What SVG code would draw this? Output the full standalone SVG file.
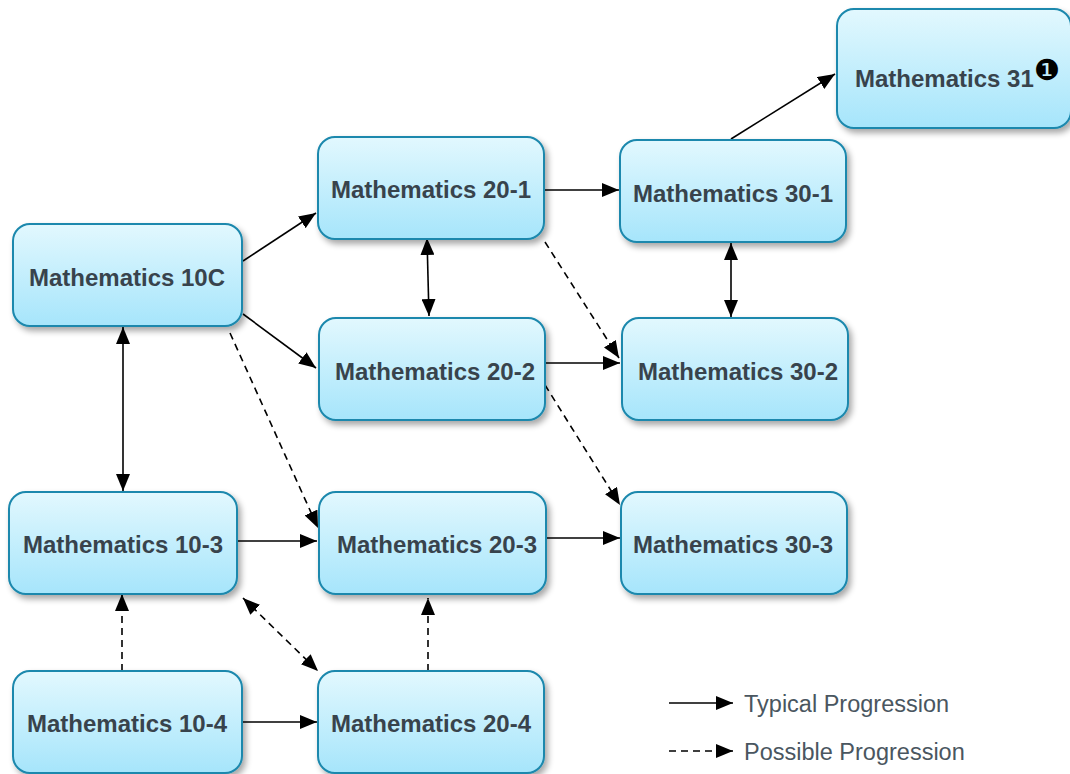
<svg xmlns="http://www.w3.org/2000/svg" width="1070" height="774" viewBox="0 0 1070 774">
<defs>
<linearGradient id="g" x1="0" y1="0" x2="0" y2="1">
<stop offset="0" stop-color="#e2f8fe"/>
<stop offset="1" stop-color="#a6e5fb"/>
</linearGradient>
<filter id="sh" x="-10%" y="-10%" width="130%" height="140%">
<feGaussianBlur in="SourceAlpha" stdDeviation="3"/>
<feOffset dx="3" dy="4" result="b"/>
<feComponentTransfer><feFuncA type="linear" slope="0.35"/></feComponentTransfer>
<feMerge><feMergeNode/><feMergeNode in="SourceGraphic"/></feMerge>
</filter>
<marker id="ah" viewBox="0 0 17 14" refX="17" refY="7" markerWidth="17" markerHeight="14" markerUnits="userSpaceOnUse" orient="auto-start-reverse">
<path d="M0,0 L17,7 L0,14 z" fill="#000"/>
</marker>
</defs>
<style>
.n rect{fill:url(#g);stroke:#1b88ad;stroke-width:2;filter:url(#sh)}
.n text{font-family:"Liberation Sans",Arial,sans-serif;font-weight:bold;font-size:24px;fill:#38434c;text-anchor:middle}
.c line{stroke:#000;stroke-width:1.6;fill:none}
.d{stroke-dasharray:7,5}
.lg{font-family:"Liberation Sans",Arial,sans-serif;font-size:23.5px;fill:#4a5660}
</style>
<rect width="1070" height="774" fill="#fff"/>
<g class="c" id="connectors">
<line x1="243" y1="261" x2="316" y2="213" marker-end="url(#ah)"/>
<line x1="243" y1="314" x2="316" y2="368" marker-end="url(#ah)"/>
<line class="d" x1="230" y1="333" x2="318" y2="528" marker-end="url(#ah)"/>
<line x1="123" y1="327" x2="123" y2="491" marker-start="url(#ah)" marker-end="url(#ah)"/>
<line x1="545" y1="190" x2="619" y2="190" marker-end="url(#ah)"/>
<line x1="427" y1="238" x2="429" y2="316" marker-start="url(#ah)" marker-end="url(#ah)"/>
<line class="d" x1="545" y1="242" x2="619" y2="358" marker-end="url(#ah)"/>
<line x1="731" y1="243" x2="731" y2="317" marker-start="url(#ah)" marker-end="url(#ah)"/>
<line x1="731" y1="139" x2="835" y2="74" marker-end="url(#ah)"/>
<line x1="545" y1="363" x2="620" y2="363" marker-end="url(#ah)"/>
<line class="d" x1="545" y1="385" x2="620" y2="505" marker-end="url(#ah)"/>
<line x1="238" y1="541" x2="317" y2="541" marker-end="url(#ah)"/>
<line x1="547" y1="538" x2="620" y2="538" marker-end="url(#ah)"/>
<line class="d" x1="122" y1="671" x2="122" y2="594" marker-end="url(#ah)"/>
<line class="d" x1="243" y1="598" x2="318" y2="671" marker-start="url(#ah)" marker-end="url(#ah)"/>
<line class="d" x1="428" y1="671" x2="428" y2="598" marker-end="url(#ah)"/>
<line x1="243" y1="722" x2="317" y2="722" marker-end="url(#ah)"/>
</g>
<g class="n" id="m31"><rect x="837" y="9" width="234" height="119" rx="17"/><text x="855" y="87" style="text-anchor:start">Mathematics 31</text><text x="1047" y="80" style="font-family:'DejaVu Sans',sans-serif;font-size:29px;fill:#000;font-weight:normal">❶</text></g>
<g class="n" id="m201"><rect x="318" y="137" width="226" height="102" rx="17"/><text x="431" y="198">Mathematics 20-1</text></g>
<g class="n" id="m301"><rect x="620" y="140" width="226" height="102" rx="17"/><text x="733" y="202">Mathematics 30-1</text></g>
<g class="n" id="m10c"><rect x="13" y="224" width="229" height="102" rx="17"/><text x="127" y="286">Mathematics 10C</text></g>
<g class="n" id="m202"><rect x="319" y="318" width="226" height="102" rx="17"/><text x="435" y="380">Mathematics 20-2</text></g>
<g class="n" id="m302"><rect x="622" y="318" width="226" height="102" rx="17"/><text x="738" y="380">Mathematics 30-2</text></g>
<g class="n" id="m103"><rect x="9" y="492" width="228" height="102" rx="17"/><text x="123" y="553">Mathematics 10-3</text></g>
<g class="n" id="m203"><rect x="319" y="492" width="227" height="102" rx="17"/><text x="437" y="553">Mathematics 20-3</text></g>
<g class="n" id="m303"><rect x="621" y="492" width="226" height="102" rx="17"/><text x="733" y="553">Mathematics 30-3</text></g>
<g class="n" id="m104"><rect x="13" y="671" width="229" height="102" rx="17"/><text x="127" y="732">Mathematics 10-4</text></g>
<g class="n" id="m204"><rect x="318" y="671" width="226" height="102" rx="17"/><text x="431" y="732">Mathematics 20-4</text></g>
<g id="legend">
<line x1="669" y1="703" x2="733" y2="703" stroke="#000" stroke-width="1.6" marker-end="url(#ah)"/>
<text class="lg" x="744" y="712">Typical Progression</text>
<line x1="669" y1="751" x2="733" y2="751" stroke="#000" stroke-width="1.6" stroke-dasharray="7,5" marker-end="url(#ah)"/>
<text class="lg" x="744" y="760">Possible Progression</text>
</g>
</svg>
